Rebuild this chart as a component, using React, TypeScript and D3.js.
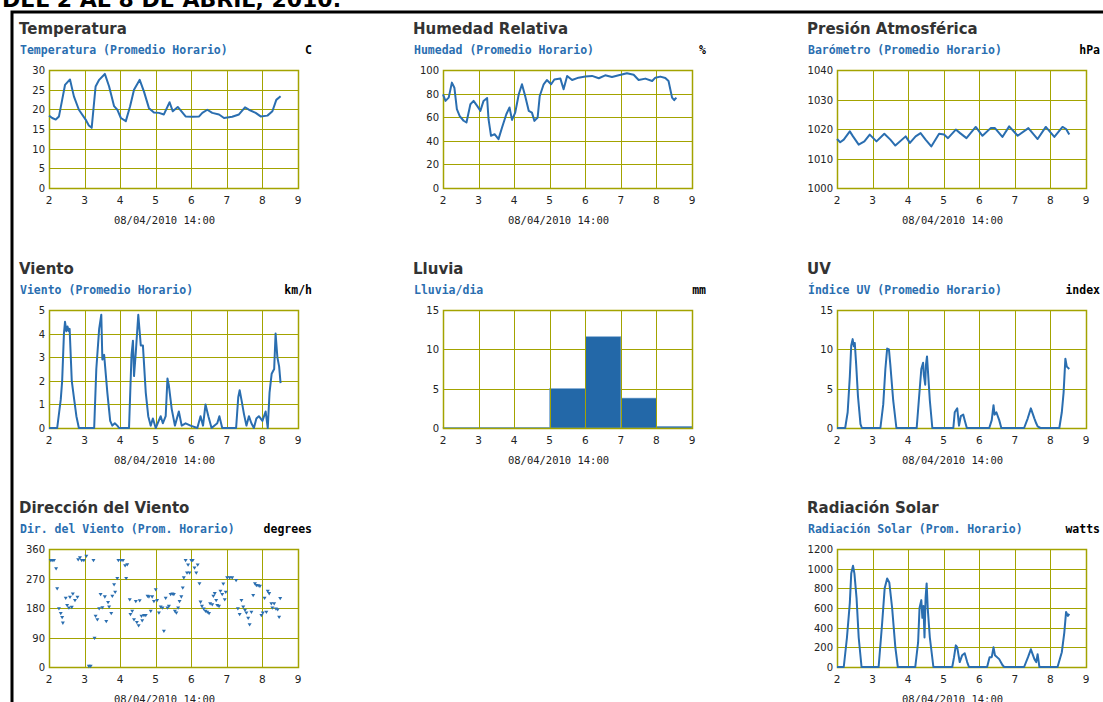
import React from "react";
import * as d3 from "d3";

// weather summary panels (day of month, value)

const xTicks = [2, 3, 4, 5, 6, 7, 8, 9];
const xCaption = "08/04/2010 14:00";

const tempTicks = [0, 5, 10, 15, 20, 25, 30];
const tempData: [number, number][] = [
  [2.0, 18.4], [2.09, 17.8], [2.19, 17.4], [2.28, 18.2], [2.37, 22.4], [2.45, 26.2], [2.59, 27.6],
  [2.7, 23.3], [2.84, 19.9], [3.03, 17.4], [3.12, 15.9], [3.2, 15.3], [3.31, 25.8], [3.41, 27.5],
  [3.57, 29.0], [3.69, 25.8], [3.83, 20.8], [3.92, 19.9], [4.02, 17.8], [4.16, 17.0], [4.28, 20.8],
  [4.39, 25.0], [4.55, 27.5], [4.67, 24.5], [4.81, 20.3], [4.95, 19.2], [5.09, 19.1], [5.23, 18.7],
  [5.39, 21.8], [5.48, 19.5], [5.62, 20.6], [5.84, 18.2], [6.03, 18.1], [6.22, 18.2], [6.31, 19.1],
  [6.45, 19.9], [6.59, 19.1], [6.78, 18.7], [6.92, 17.8], [7.15, 18.1], [7.34, 18.7], [7.51, 20.5],
  [7.62, 19.9], [7.81, 19.1], [7.95, 18.2], [8.14, 18.4], [8.28, 19.5], [8.39, 22.4], [8.51, 23.3],
];

const humTicks = [0, 20, 40, 60, 80, 100];
const humData: [number, number][] = [
  [2.0, 79.4], [2.07, 73.8], [2.16, 76.6], [2.25, 89.3], [2.32, 85], [2.39, 66.8], [2.47, 61],
  [2.58, 57], [2.66, 55.5], [2.77, 71], [2.86, 73.8], [2.96, 69.6], [3.05, 65.4], [3.14, 73.8],
  [3.24, 76.3], [3.28, 58.3], [3.35, 44.2], [3.45, 45.6], [3.56, 41.4], [3.66, 51.3], [3.78, 62.5],
  [3.87, 68.2], [3.94, 57.7], [4.03, 63.9], [4.13, 79.4], [4.22, 87.9], [4.31, 78], [4.41, 65.4],
  [4.5, 63.9], [4.57, 56.9], [4.66, 59.7], [4.72, 78], [4.83, 87.9], [4.92, 91.5], [5.04, 87.9],
  [5.13, 92], [5.3, 92.7], [5.39, 83.7], [5.49, 95], [5.63, 91.5], [5.81, 93.5], [6.0, 94.4],
  [6.19, 95], [6.38, 93], [6.56, 95.5], [6.75, 94], [6.94, 95.5], [7.17, 97.2], [7.36, 96],
  [7.5, 91.5], [7.69, 92.7], [7.88, 90.7], [7.97, 93.5], [8.11, 94.4], [8.25, 93.2], [8.34, 90.7],
  [8.44, 76.6], [8.5, 74.4], [8.56, 76.6],
];

const presTicks = [1000, 1010, 1020, 1030, 1040];
const presData: [number, number][] = [
  [2.0, 1016.6], [2.09, 1015.5], [2.19, 1016.4], [2.36, 1019.2], [2.45, 1017.5], [2.61, 1014.7],
  [2.77, 1015.8], [2.92, 1018.1], [3.11, 1015.8], [3.33, 1018.4], [3.5, 1016.4], [3.64, 1014.4],
  [3.93, 1017.5], [4.05, 1015.3], [4.21, 1017.5], [4.35, 1018.6], [4.49, 1016.4], [4.65, 1014.1],
  [4.87, 1018.4], [5.01, 1018.1], [5.12, 1016.9], [5.34, 1019.8], [5.46, 1018.6], [5.64, 1016.9],
  [5.9, 1020.7], [6.09, 1017.7], [6.32, 1020.3], [6.44, 1020.3], [6.65, 1017.3], [6.84, 1020.9],
  [7.08, 1017.7], [7.38, 1020.3], [7.64, 1016.6], [7.87, 1020.7], [8.11, 1017.3], [8.34, 1020.7],
  [8.44, 1020], [8.53, 1018.1],
];

const windTicks = [0, 1, 2, 3, 4, 5];
const windData: [number, number][] = [
  [2.0, 0], [2.23, 0], [2.33, 1.2], [2.37, 2.0], [2.42, 4.0], [2.45, 4.5], [2.49, 4.1], [2.52, 4.3],
  [2.56, 4.1], [2.58, 4.2], [2.64, 2.0], [2.7, 1.3], [2.77, 0.5], [2.84, 0], [3.27, 0], [3.33, 2.5],
  [3.41, 4.2], [3.47, 4.8], [3.5, 2.9], [3.55, 3.1], [3.64, 1.5], [3.72, 0.3], [3.78, 0.1],
  [3.85, 0.2], [3.92, 0.1], [3.97, 0], [4.25, 0], [4.32, 3.1], [4.36, 3.7], [4.39, 2.2], [4.44, 3.2],
  [4.51, 4.8], [4.58, 3.5], [4.64, 3.5], [4.72, 1.5], [4.79, 0.5], [4.86, 0.1], [4.92, 0.4],
  [5.0, 0], [5.14, 0.5], [5.2, 0.2], [5.28, 0.5], [5.33, 2.1], [5.37, 1.8], [5.45, 0.8],
  [5.54, 0.1], [5.65, 0.7], [5.73, 0.1], [5.84, 0.2], [5.98, 0.1], [6.17, 0], [6.26, 0.5],
  [6.33, 0.1], [6.4, 1.0], [6.48, 0.5], [6.57, 0], [6.73, 0.2], [6.79, 0.5], [6.87, 0], [7.26, 0],
  [7.32, 1.3], [7.36, 1.6], [7.41, 1.2], [7.48, 0.6], [7.55, 0.1], [7.62, 0.5], [7.69, 0.2],
  [7.76, 0], [7.83, 0.4], [7.9, 0.5], [8.0, 0.3], [8.09, 0.7], [8.15, 0], [8.2, 1.5], [8.26, 2.3],
  [8.33, 2.5], [8.37, 4.0], [8.42, 3.0], [8.47, 2.6], [8.51, 1.9],
];

const rainTicks = [0, 5, 10, 15];
const rainDays = [2, 3, 4, 5, 6, 7, 8];
const rainValues = [0.05, 0.05, 0.05, 5.0, 11.6, 3.8, 0.2];

const uvTicks = [0, 5, 10, 15];
const uvData: [number, number][] = [
  [2.0, 0], [2.23, 0], [2.3, 2], [2.36, 6.5], [2.4, 10.5], [2.44, 11.3], [2.47, 10.4], [2.5, 10.8],
  [2.54, 8], [2.59, 4], [2.66, 0.5], [2.7, 0], [3.22, 0], [3.3, 3], [3.36, 7.5], [3.41, 10.1],
  [3.46, 10], [3.5, 8], [3.58, 3.5], [3.67, 0], [4.24, 0], [4.3, 3.5], [4.37, 7.5], [4.42, 8.3],
  [4.44, 6.8], [4.48, 5.5], [4.5, 8.0], [4.53, 9.1], [4.56, 7], [4.61, 3.5], [4.68, 0], [5.27, 0],
  [5.31, 2], [5.38, 2.5], [5.43, 0.3], [5.48, 1.5], [5.55, 1.7], [5.59, 1], [5.65, 0], [6.28, 0],
  [6.35, 1], [6.4, 2.9], [6.43, 1.7], [6.48, 2], [6.56, 1], [6.62, 0], [7.26, 0], [7.36, 1.2],
  [7.45, 2.5], [7.55, 1.2], [7.6, 0.6], [7.64, 0.2], [7.72, 0], [8.25, 0], [8.32, 2], [8.37, 4.5],
  [8.42, 8.8], [8.46, 7.8], [8.53, 7.5],
];

const dirTicks = [0, 90, 180, 270, 360];
const dirData: [number, number][] = [
  [2.05, 325], [2.09, 325], [2.14, 325], [2.2, 300], [2.23, 239], [2.28, 178], [2.33, 163],
  [2.37, 151], [2.39, 134], [2.47, 210], [2.51, 188], [2.56, 180], [2.59, 213], [2.64, 182],
  [2.67, 223], [2.73, 203], [2.8, 213], [2.82, 327], [2.87, 333], [2.92, 325], [2.98, 325],
  [3.05, 338], [3.12, 2], [3.17, 2], [3.25, 325], [3.28, 88], [3.31, 155], [3.36, 144], [3.41, 178],
  [3.45, 221], [3.5, 181], [3.57, 214], [3.61, 139], [3.66, 197], [3.69, 183], [3.75, 163],
  [3.78, 216], [3.83, 251], [3.86, 228], [3.92, 270], [3.95, 325], [4.02, 325], [4.08, 325],
  [4.14, 309], [4.17, 270], [4.2, 312], [4.27, 205], [4.29, 160], [4.34, 170], [4.39, 144],
  [4.44, 200], [4.47, 136], [4.52, 126], [4.55, 202], [4.6, 155], [4.62, 141], [4.67, 157],
  [4.72, 157], [4.77, 216], [4.81, 214], [4.86, 170], [4.9, 214], [4.95, 200], [5.0, 236],
  [5.04, 203], [5.09, 165], [5.14, 183], [5.19, 180], [5.23, 109], [5.28, 210], [5.33, 180],
  [5.37, 185], [5.42, 221], [5.47, 223], [5.51, 221], [5.54, 170], [5.58, 165], [5.63, 180],
  [5.67, 200], [5.72, 214], [5.76, 241], [5.79, 272], [5.84, 325], [5.88, 287], [5.91, 311],
  [5.95, 287], [6.0, 325], [6.04, 325], [6.09, 302], [6.14, 287], [6.18, 311], [6.23, 254],
  [6.26, 198], [6.3, 185], [6.35, 177], [6.4, 170], [6.45, 167], [6.5, 163], [6.53, 193],
  [6.59, 190], [6.62, 216], [6.66, 224], [6.7, 203], [6.73, 188], [6.78, 185], [6.82, 231],
  [6.87, 221], [6.9, 253], [6.94, 205], [6.97, 228], [7.01, 272], [7.08, 272], [7.15, 272],
  [7.26, 264], [7.31, 178], [7.36, 160], [7.41, 203], [7.46, 183], [7.51, 173], [7.55, 165],
  [7.6, 149], [7.64, 129], [7.69, 167], [7.74, 218], [7.79, 254], [7.83, 249], [7.88, 248],
  [7.93, 246], [7.97, 157], [8.01, 165], [8.06, 210], [8.11, 167], [8.15, 231], [8.19, 224],
  [8.25, 193], [8.28, 180], [8.33, 193], [8.38, 177], [8.43, 175], [8.47, 152], [8.5, 209],
];

const radTicks = [0, 200, 400, 600, 800, 1000, 1200];
const radData: [number, number][] = [
  [2.0, 0], [2.19, 0], [2.28, 300], [2.36, 650], [2.4, 950], [2.45, 1030], [2.49, 950], [2.55, 700],
  [2.61, 300], [2.69, 0], [3.17, 0], [3.27, 450], [3.34, 800], [3.41, 900], [3.47, 860], [3.55, 600],
  [3.64, 200], [3.71, 0], [4.2, 0], [4.28, 250], [4.32, 600], [4.37, 680], [4.4, 500], [4.43, 620],
  [4.46, 300], [4.49, 700], [4.52, 850], [4.55, 600], [4.61, 300], [4.71, 0], [5.24, 0], [5.29, 100],
  [5.34, 220], [5.38, 200], [5.45, 50], [5.52, 120], [5.59, 140], [5.66, 50], [5.71, 0], [6.22, 0],
  [6.29, 100], [6.35, 100], [6.4, 200], [6.44, 120], [6.56, 80], [6.65, 20], [6.7, 0], [7.26, 0],
  [7.37, 100], [7.45, 180], [7.55, 80], [7.6, 50], [7.64, 130], [7.69, 0], [8.2, 0], [8.32, 150],
  [8.39, 350], [8.44, 560], [8.49, 520], [8.53, 540],
];

const W = 249;
const H = 118;
const GRID = "#a3a300";
const BLUE = "#2a6eb0";
const TICK_FONT = "'DejaVu Sans', Verdana, sans-serif";
const MONO = "'DejaVu Sans Mono', 'Liberation Mono', monospace";

type Panel = {
  col: number;
  row: number;
  title: string;
  subtitle: string;
  unit: string;
  ticks: number[];
  kind: "line" | "bar" | "dots";
  data?: [number, number][];
};

const colLeft = [49, 443, 837];
const rowTop = [70, 310, 549];

const panels: Panel[] = [
  { col: 0, row: 0, title: "Temperatura", subtitle: "Temperatura (Promedio Horario)", unit: "C", ticks: tempTicks, kind: "line", data: tempData },
  { col: 1, row: 0, title: "Humedad Relativa", subtitle: "Humedad (Promedio Horario)", unit: "%", ticks: humTicks, kind: "line", data: humData },
  { col: 2, row: 0, title: "Presión Atmosférica", subtitle: "Barómetro (Promedio Horario)", unit: "hPa", ticks: presTicks, kind: "line", data: presData },
  { col: 0, row: 1, title: "Viento", subtitle: "Viento (Promedio Horario)", unit: "km/h", ticks: windTicks, kind: "line", data: windData },
  { col: 1, row: 1, title: "Lluvia", subtitle: "Lluvia/dia", unit: "mm", ticks: rainTicks, kind: "bar" },
  { col: 2, row: 1, title: "UV", subtitle: "Índice UV (Promedio Horario)", unit: "index", ticks: uvTicks, kind: "line", data: uvData },
  { col: 0, row: 2, title: "Dirección del Viento", subtitle: "Dir. del Viento (Prom. Horario)", unit: "degrees", ticks: dirTicks, kind: "dots", data: dirData },
  { col: 2, row: 2, title: "Radiación Solar", subtitle: "Radiación Solar (Prom. Horario)", unit: "watts", ticks: radTicks, kind: "line", data: radData },
];

function ChartPanel({ p }: { p: Panel }) {
  const left = colLeft[p.col];
  const top = rowTop[p.row];
  const x = d3.scaleLinear().domain([2, 9]).range([left, left + W]);
  const y = d3
    .scaleLinear()
    .domain([p.ticks[0], p.ticks[p.ticks.length - 1]])
    .range([top + H, top]);
  const px = (v: number) => Math.round(x(v)) + 0.5;
  const py = (v: number) => Math.round(y(v)) + 0.5;

  const line = d3
    .line<[number, number]>()
    .x((d) => x(d[0]))
    .y((d) => y(d[1]));

  const hGrid = p.ticks.map((t) => (
    <line key={"h" + t} x1={left} x2={left + W} y1={py(t)} y2={py(t)} stroke={GRID} />
  ));
  const vGrid = xTicks.map((t) => (
    <line key={"v" + t} x1={px(t)} x2={px(t)} y1={top} y2={top + H} stroke={GRID} />
  ));

  return (
    <g>
      <text x={left - 30} y={top - 36} fontFamily={TICK_FONT} fontWeight="bold" fontSize={15} fill="#333">
        {p.title}
      </text>
      <text x={left - 29} y={top - 16} fontFamily={MONO} fontWeight="bold" fontSize={11.5} fill={BLUE}>
        {p.subtitle}
      </text>
      <text x={left + W + 14} y={top - 16} textAnchor="end" fontFamily={MONO} fontWeight="bold" fontSize={11.5} fill="#000">
        {p.unit}
      </text>

      <rect x={left} y={top} width={W} height={H} fill="#fff" />
      {hGrid}
      {p.kind === "bar" &&
        rainDays.map((d, i) => (
          <rect
            key={"b" + d}
            x={x(d)}
            y={y(rainValues[i])}
            width={x(d + 1) - x(d)}
            height={y(0) - y(rainValues[i])}
            fill="#2368a8"
            stroke="#6fa0cf"
            strokeWidth={0.6}
          />
        ))}
      {vGrid}
      <rect x={left + 0.5} y={top + 0.5} width={W} height={H} fill="none" stroke={GRID} strokeWidth={1.5} />

      {p.kind === "line" && p.data && (
        <path d={line(p.data) || ""} fill="none" stroke={BLUE} strokeWidth={2} strokeLinejoin="round" />
      )}
      {p.kind === "dots" &&
        p.data &&
        p.data.map((d, i) => (
          <path
            key={i}
            transform={`translate(${x(d[0])},${y(d[1])})`}
            d="M-2,-1.5L2,-1.5L0,1.8Z"
            fill={BLUE}
          />
        ))}

      {p.ticks.map((t) => (
        <text key={"yt" + t} x={left - 4} y={y(t) + 4} textAnchor="end" fontFamily={TICK_FONT} fontSize={10} fill="#222">
          {t}
        </text>
      ))}
      {xTicks.map((t) => (
        <text key={"xt" + t} x={x(t)} y={top + H + 16} textAnchor="middle" fontFamily={TICK_FONT} fontSize={10.5} fill="#222">
          {t}
        </text>
      ))}
      <text x={left + W / 2 - 9} y={top + H + 36} textAnchor="middle" fontFamily={MONO} fontSize={10.5} fill="#222">
        {xCaption}
      </text>
    </g>
  );
}

export default function App() {
  return (
    <svg
      width={1103}
      height={702}
      style={{ position: "absolute", left: 0, top: 0, background: "#fff" }}
    >
      <text x={341} y={7} textAnchor="end" fontFamily={TICK_FONT} fontWeight="bold" fontSize={22} fill="#000">
        DEL 2 AL 8 DE ABRIL, 2010.
      </text>
      <path d="M12,702V12H1103" fill="none" stroke="#000" strokeWidth={3} />
      {panels.map((p) => (
        <ChartPanel key={p.title} p={p} />
      ))}
    </svg>
  );
}
